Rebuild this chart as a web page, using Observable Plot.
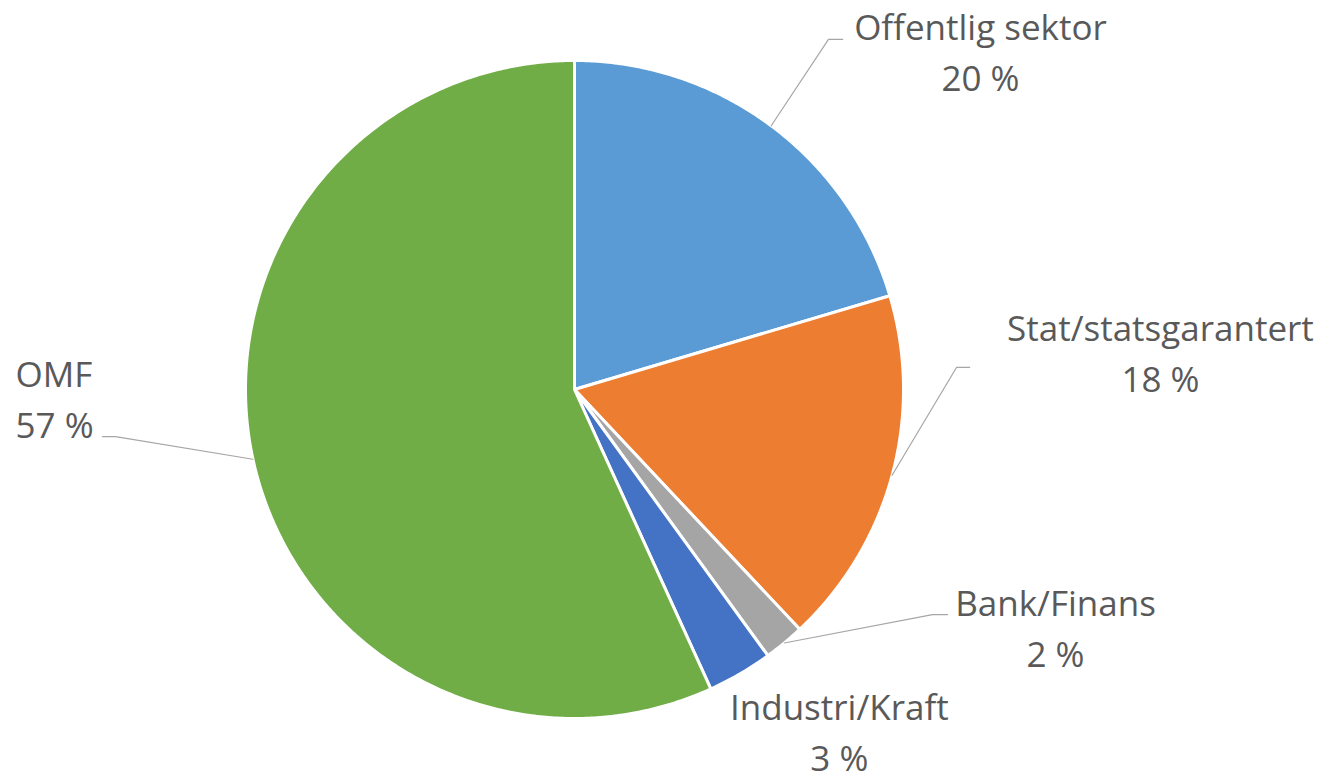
<!DOCTYPE html>
<html>
<head>
<meta charset="utf-8">
<script src="https://cdn.jsdelivr.net/npm/d3@7"></script>
<script src="https://cdn.jsdelivr.net/npm/@observablehq/plot@0.6"></script>
<style>
  html, body { margin: 0; padding: 0; background: #ffffff; }
  #chart svg { display: block; }
</style>
</head>
<body>
<div id="chart"></div>
<script>
// ---- Data ----
const categories = ["Offentlig sektor", "Stat/statsgarantert", "Bank/Finans", "Industri/Kraft", "OMF"];
const shares = [20.4, 17.6, 2.0, 3.2, 56.8];
const colors = ["#5B9BD5", "#ED7D31", "#A5A5A5", "#4472C4", "#70AD47"];

// ---- Layout (pie centre / radius in px, label placement in radius units) ----
const W = 1328, H = 782;
const CX = 574, CY = 389, R = 329;
const labelAt = [[1.234, 0.906], [1.781, -0.009], [1.462, -0.842], [0.805, -1.159], [-1.699, -0.146]];
const labelAnchor = ["middle", "middle", "middle", "middle", "start"];
const leaderKnee = [[0.772, 1.064], [1.161, 0.067], [1.088, -0.684], null, [-1.395, -0.143]];
const leaderEnd = [[0.815, 1.064], [1.201, 0.067], [1.134, -0.684], null, [-1.435, -0.143]];

// ---- Geometry derived from the data ----
const total = d3.sum(shares);
const toRad = (frac) => frac * 2 * Math.PI; // clockwise from north
let cum = 0;
const slices = categories.map((name, i) => {
  const a0 = toRad(cum / total);
  cum += shares[i];
  const a1 = toRad(cum / total);
  return {name, value: shares[i], a0, a1, mid: (a0 + a1) / 2, i};
});

const slicePts = [];
for (const s of slices) {
  slicePts.push({name: s.name, x: 0, y: 0});
  const n = Math.max(2, Math.ceil((s.a1 - s.a0) / (Math.PI / 360)));
  for (let k = 0; k <= n; ++k) {
    const a = s.a0 + (s.a1 - s.a0) * k / n;
    slicePts.push({name: s.name, x: Math.sin(a), y: Math.cos(a)});
  }
  slicePts.push({name: s.name, x: 0, y: 0});
}

const leaderPts = [];
slices.forEach((s, i) => {
  if (!leaderKnee[i]) return;
  leaderPts.push({name: s.name, x: Math.sin(s.mid), y: Math.cos(s.mid)});
  leaderPts.push({name: s.name, x: leaderKnee[i][0], y: leaderKnee[i][1]});
  leaderPts.push({name: s.name, x: leaderEnd[i][0], y: leaderEnd[i][1]});
});

const labels = slices.map((s, i) => ({
  name: s.name,
  text: `${s.name}\n${Math.round(s.value)} %`,
  x: labelAt[i][0],
  y: labelAt[i][1],
  anchor: labelAnchor[i]
}));

const xDomain = [-CX / R, (W - CX) / R];
const yDomain = [-(H - CY) / R, CY / R];

const textStyle = {
  fontSize: 35,
  fontFamily: "'Open Sans', sans-serif",
  fill: "#595959",
  lineAnchor: "bottom",
  lineHeight: 1.457
};

const chart = Plot.plot({
  width: W,
  height: H,
  margin: 0,
  x: {domain: xDomain, axis: null},
  y: {domain: yDomain, axis: null},
  color: {domain: categories, range: colors},
  marks: [
    Plot.line(slicePts, {x: "x", y: "y", z: "name", fill: "name", stroke: "#ffffff", strokeWidth: 3, strokeLinejoin: "round"}),
    Plot.line(leaderPts, {x: "x", y: "y", z: "name", stroke: "#A6A6A6", strokeWidth: 1.2}),
    Plot.text(labels.filter(d => d.anchor === "middle"), {x: "x", y: "y", text: "text", textAnchor: "middle", ...textStyle}),
    Plot.text(labels.filter(d => d.anchor === "start"), {x: "x", y: "y", text: "text", textAnchor: "start", ...textStyle})
  ]
});

document.getElementById("chart").appendChild(chart);
</script>
</body>
</html>
